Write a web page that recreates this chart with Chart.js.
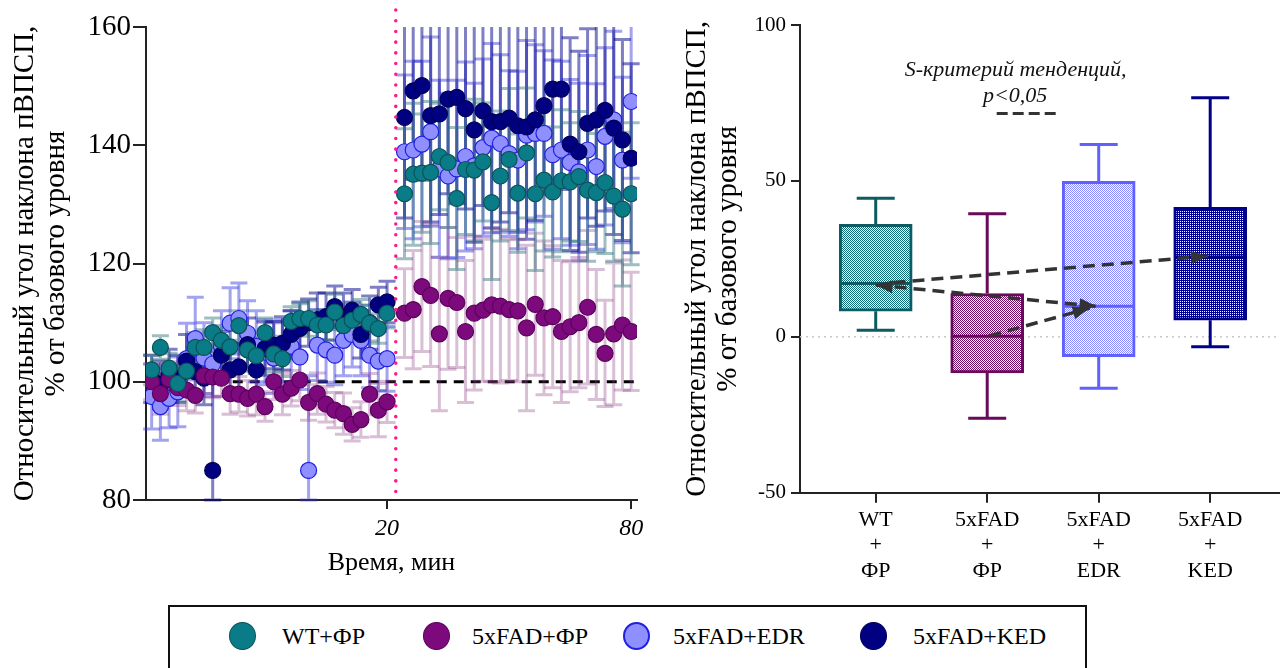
<!DOCTYPE html>
<html>
<head>
<meta charset="utf-8">
<script src="https://cdn.jsdelivr.net/npm/chart.js@4.4.1/dist/chart.umd.min.js"></script>
<style>
    html, body { margin: 0; padding: 0; background: #fff; }
    #wrap { position: relative; width: 1280px; height: 668px; overflow: hidden; font-family: 'Liberation Serif', 'Times New Roman', serif; }
    #left { position: absolute; left: 0; top: 0; }
    #right { position: absolute; left: 660px; top: 0; }
    .legend { position: absolute; left: 168px; top: 605px; width: 915px; height: 80px; border: 2px solid #111; }
    .dot { position: absolute; top: 15px; width: 27px; height: 28px; border-radius: 50%; box-sizing: border-box; }
    .lbl { position: absolute; top: 14px; font-size: 24px; line-height: 30px; color: #000; white-space: nowrap; }
</style>
</head>
<body>
<div id="wrap">
    <canvas id="left" width="660" height="600"></canvas>
    <canvas id="right" width="620" height="600"></canvas>

    <!-- общая легенда -->
    <div class="legend">
        <div class="dot" style="left: 59px; background: #0A7C88; border: 1px solid #0B5257;"></div>
        <div class="lbl" style="left: 112px;">WT+ФР</div>
        <div class="dot" style="left: 253px; background: #7D0A7D; border: 1px solid #5C005C;"></div>
        <div class="lbl" style="left: 302px;">5xFAD+ФР</div>
        <div class="dot" style="left: 453px; background: #8F8FFF; border: 2px solid #2020E0;"></div>
        <div class="lbl" style="left: 503px;">5xFAD+EDR</div>
        <div class="dot" style="left: 690px; background: #000080; border: 1px solid #00005A;"></div>
        <div class="lbl" style="left: 743px;">5xFAD+KED</div>
    </div>
</div>

<script>
    // ---- left panel: time course, mean ± error, before / after stimulation ----
    // pre-phase points sit in slots 1..28, post-phase in slots 30..56
    const PRE_FIRST_SLOT = 1;
    const POST_FIRST_SLOT = 30;
    const STIM_SLOT = 29;
    const timeTickSlots = [28, 56];
    const timeTickLabels = ['20', '80'];
    const BASELINE = 100;
    const BASELINE_FROM_SLOT = 10.3;

    const preWT = [102.0, 105.8, 102.3, 99.7, 101.8, 105.8, 105.8, 108.3, 107.0, 105.9, 109.5, 105.4, 104.4, 108.3, 104.7, 103.9, 110.2, 110.7, 110.7, 109.6, 109.6, 111.8, 109.5, 110.4, 111.4, 109.9, 109.0, 111.6];
    const preWTErr = [2.5, 2.0, 2.5, 3.0, 2.5, 2.5, 3.0, 2.5, 2.5, 3.0, 2.5, 3.0, 3.0, 2.5, 3.0, 3.0, 2.5, 2.5, 3.0, 2.5, 2.5, 3.0, 2.5, 3.0, 2.5, 3.0, 2.5, 2.5];
    const postWT = [131.8, 135.1, 135.3, 135.4, 138.1, 137.1, 131.0, 135.9, 135.8, 137.2, 130.3, 134.8, 137.6, 131.9, 138.7, 131.8, 134.1, 132.1, 134.0, 133.8, 134.7, 132.4, 132.0, 133.7, 131.4, 129.2, 131.8];
    const postWTErr = [11, 12, 10, 12, 9, 11, 12, 11, 12, 10, 13, 11, 12, 10, 11, 13, 12, 11, 12, 10, 11, 12, 10, 12, 11, 13, 12];

    const preFAD = [100.0, 98.0, 100.4, 99.0, 98.6, 97.7, 101.0, 100.8, 100.6, 98.0, 97.9, 97.2, 97.9, 95.8, 100.0, 97.9, 98.9, 100.3, 96.5, 98.0, 96.2, 95.2, 94.6, 92.8, 93.6, 97.9, 95.2, 96.6];
    const preFADErr = [3.0, 3.5, 3.0, 3.0, 3.5, 3.0, 3.0, 3.5, 3.0, 3.5, 3.0, 3.0, 3.5, 2.5, 3.0, 3.5, 3.0, 3.5, 3.0, 3.5, 3.0, 3.0, 3.5, 2.8, 3.0, 3.5, 4.5, 3.5];
    const postFAD = [111.6, 112.2, 116.1, 114.6, 108.1, 114.1, 113.4, 108.5, 111.6, 112.1, 113.0, 112.8, 112.2, 112.0, 109.1, 113.1, 110.8, 111.0, 108.5, 109.3, 110.0, 112.6, 108.0, 104.8, 108.1, 109.6, 108.5];
    const postFADErr = [7.5, 10, 11, 12, 13, 12, 11, 12, 13, 12, 13, 13, 12, 12, 14, 12, 13, 12, 12, 11, 11, 13, 11, 9, 12, 11, 10];

    const preEDR = [97.5, 95.8, 97.2, 98.3, 103.9, 107.3, 104.0, 103.0, 106.0, 109.9, 110.7, 108.2, 106.0, 105.0, 104.0, 105.0, 106.0, 104.2, 85.0, 106.2, 105.4, 104.5, 107.0, 108.0, 107.0, 104.5, 103.5, 103.9];
    const preEDRErr = [5.5, 5.7, 5.0, 5.9, 6.0, 7.0, 6.0, 5.5, 6.0, 6.0, 6.0, 5.5, 6.0, 5.5, 6.0, 5.5, 6.0, 5.5, 16.0, 6.0, 5.5, 5.0, 6.0, 5.5, 6.0, 5.5, 5.0, 5.5];
    const postEDR = [138.9, 139.2, 140.2, 142.3, 136.0, 134.8, 136.0, 138.1, 136.5, 139.6, 141.2, 140.3, 138.6, 137.5, 141.7, 142.0, 142.0, 138.4, 139.2, 137.1, 135.5, 139.2, 136.4, 141.5, 144.3, 137.5, 147.4];
    const postEDRErr = [13, 15, 14, 16, 15, 14, 15, 16, 14, 15, 16, 15, 14, 15, 16, 15, 14, 16, 15, 14, 15, 16, 14, 15, 15, 14, 13];

    const preKED = [100.5, 99.5, 101.0, 100.5, 103.5, 101.7, 100.6, 85.0, 104.5, 102.0, 102.5, 106.3, 102.0, 105.6, 106.2, 106.5, 108.0, 109.0, 110.0, 110.5, 111.0, 112.7, 111.0, 112.1, 108.0, 110.0, 113.0, 113.5];
    const preKEDErr = [4, 4, 4.5, 4, 4.5, 4, 4.5, 18.5, 4, 4.5, 4, 4.5, 4, 4.5, 4, 4.5, 4, 4.5, 4, 4.5, 4, 3.5, 4, 3.5, 4, 4.5, 3, 3.5];
    const postKED = [144.7, 149.2, 150.1, 145.0, 145.3, 147.8, 148.1, 146.2, 142.6, 145.8, 144.0, 144.0, 144.6, 143.3, 143.1, 144.3, 146.7, 149.5, 149.5, 140.2, 138.9, 143.7, 144.3, 145.9, 142.9, 140.9, 137.8];
    const postKEDErr = [17, 15, 16, 18, 17, 16, 18, 17, 19, 16, 18, 17, 16, 18, 19, 17, 15, 16, 17, 18, 17, 16, 18, 17, 18, 17, 16];

    // ---- right panel: box plots ----
    const boxLabels = [['WT', '+', 'ФР'], ['5xFAD', '+', 'ФР'], ['5xFAD', '+', 'EDR'], ['5xFAD', '+', 'KED']];
    const boxMin = [2.1, -26.1, -16.5, -3.2];
    const boxQ1 = [8.2, -11.6, -6.4, 5.3];
    const boxMed = [17.1, 0.2, 9.8, 25.6];
    const boxQ3 = [36.1, 13.9, 49.9, 41.5];
    const boxMax = [44.4, 39.5, 61.7, 76.7];

    const SERIF = "'Liberation Serif', 'Times New Roman', serif";
    Chart.defaults.font.family = SERIF;
    Chart.defaults.color = '#000';

    const series = (pre, preErr, post, postErr) =>
        pre.map((v, k) => ({ x: PRE_FIRST_SLOT + k, y: v, e: preErr[k] }))
            .concat(post.map((v, k) => ({ x: POST_FIRST_SLOT + k, y: v, e: postErr[k] })));

    const pointDs = (label, data, fill, border, errColor, order) => ({
        label, data, order, errColor,
        backgroundColor: fill,
        borderColor: border,
        borderWidth: 1.2,
        pointRadius: 8,
        pointHoverRadius: 8
    });

    const leftMarks = {
        id: 'leftMarks',
        beforeDatasetsDraw(chart) {
            const { ctx, chartArea: a, scales: { x, y } } = chart;
            ctx.save();
            // dashed 100% baseline
            const yb = y.getPixelForValue(BASELINE);
            ctx.strokeStyle = '#000';
            ctx.lineWidth = 3;
            ctx.setLineDash([10, 7]);
            ctx.beginPath();
            ctx.moveTo(x.getPixelForValue(BASELINE_FROM_SLOT), yb);
            ctx.lineTo(a.right, yb);
            ctx.stroke();
            ctx.setLineDash([]);

            // error bars, bottom layer first
            const sorted = [...chart.data.datasets].sort((p, q) => q.order - p.order);
            sorted.forEach(ds => {
                ctx.strokeStyle = ds.errColor;
                ctx.lineWidth = 3;
                ds.data.forEach(pt => {
                    const px = x.getPixelForValue(pt.x);
                    let hi = y.getPixelForValue(pt.y + pt.e);
                    let lo = y.getPixelForValue(pt.y - pt.e);
                    const hiClipped = hi < a.top;
                    hi = Math.max(hi, a.top);
                    lo = Math.min(lo, a.bottom);
                    ctx.beginPath();
                    ctx.moveTo(px, hi);
                    ctx.lineTo(px, lo);
                    if (!hiClipped) {
                        ctx.moveTo(px - 8.5, hi);
                        ctx.lineTo(px + 8.5, hi);
                    }
                    ctx.moveTo(px - 8.5, lo);
                    ctx.lineTo(px + 8.5, lo);
                    ctx.stroke();
                });
            });
            ctx.restore();
        },
        afterDatasetsDraw(chart) {
            const { ctx, chartArea: a, scales: { x } } = chart;
            // stimulation marker
            const sx = x.getPixelForValue(STIM_SLOT);
            ctx.save();
            ctx.strokeStyle = '#FF1A8C';
            ctx.lineWidth = 3.5;
            ctx.lineCap = 'round';
            ctx.setLineDash([0.1, 10.6]);
            ctx.beginPath();
            ctx.moveTo(sx, a.top - 17);
            ctx.lineTo(sx, a.bottom);
            ctx.stroke();
            ctx.restore();
        }
    };

    new Chart(document.getElementById('left'), {
        type: 'scatter',
        data: {
            datasets: [
                pointDs('WT+ФР', series(preWT, preWTErr, postWT, postWTErr), '#0A7C88', '#0B5257', 'rgba(40,110,120,0.45)', 0),
                pointDs('5xFAD+ФР', series(preFAD, preFADErr, postFAD, postFADErr), '#7D0A7D', '#5C005C', 'rgba(140,60,130,0.33)', 1),
                pointDs('5xFAD+EDR', series(preEDR, preEDRErr, postEDR, postEDRErr), '#8F8FFF', '#2020E0', 'rgba(50,50,220,0.45)', 3),
                pointDs('5xFAD+KED', series(preKED, preKEDErr, postKED, postKEDErr), '#000080', '#00005A', 'rgba(0,0,140,0.5)', 2)
            ]
        },
        options: {
            responsive: false,
            animation: false,
            layout: { padding: { top: 27, right: 23, left: 0, bottom: 0 } },
            plugins: { legend: { display: false }, tooltip: { enabled: false } },
            scales: {
                x: {
                    type: 'linear',
                    min: 0.35,
                    max: 56.67,
                    afterBuildTicks: s => { s.ticks = timeTickSlots.map(v => ({ value: v })); },
                    ticks: {
                        callback: v => timeTickLabels[timeTickSlots.indexOf(v)],
                        font: { size: 24, style: 'italic', lineHeight: 1.2 },
                        padding: 5,
                        maxRotation: 0
                    },
                    grid: { drawOnChartArea: false, tickLength: 9, tickColor: '#222', lineWidth: 2 },
                    border: { color: '#222', width: 2 },
                    title: { display: true, text: 'Время, мин', font: { size: 26, lineHeight: 1.2 }, padding: { bottom: 21 } },
                    afterFit: s => { s.height = 100; }
                },
                y: {
                    min: 80,
                    max: 160,
                    ticks: { stepSize: 20, font: { size: 29 }, padding: 2 },
                    grid: { drawOnChartArea: false, tickLength: 13, tickColor: '#222', lineWidth: 2 },
                    border: { color: '#222', width: 2 },
                    title: {
                        display: true,
                        text: ['Относительный угол наклона пВПСП,', '% от базового уровня'],
                        font: { size: 29, lineHeight: 1.1 },
                        padding: { top: 9 }
                    },
                    afterFit: s => { s.width = 146; }
                }
            }
        },
        plugins: [leftMarks]
    });

    // ---- right panel ----
    const rightCanvas = document.getElementById('right');
    // 2x2 tile; dense = how many of the 4 cells take the colour
    const checker = (color, dense) => {
        const c = document.createElement('canvas');
        c.width = 2; c.height = 2;
        const g = c.getContext('2d');
        g.fillStyle = '#fff';
        g.fillRect(0, 0, 2, 2);
        g.fillStyle = color;
        g.fillRect(0, 0, 1, 1);
        g.fillRect(1, 1, 1, 1);
        if (dense > 2) g.fillRect(1, 0, 1, 1);
        return rightCanvas.getContext('2d').createPattern(c, 'repeat');
    };
    const boxStroke = ['#0D5C63', '#6A0A5A', '#6060FF', '#000088'];
    const boxFill = [checker('#0A6E78', 2), checker('#720868', 2), checker('#8A8AFF', 2), checker('#000090', 3)];

    // trend links between medians, in (group, value) coordinates
    const trendLinks = [
        { from: [0.16, 17.4], to: [2.98, 25.9], headStart: false },
        { from: [0.0, 16.6], to: [1.98, 9.8], headStart: true },
        { from: [1.02, 0.3], to: [1.92, 9.2], headStart: false }
    ];

    const arrowHead = (ctx, x0, y0, x1, y1) => {
        const ang = Math.atan2(y1 - y0, x1 - x0);
        ctx.save();
        ctx.translate(x1, y1);
        ctx.rotate(ang);
        ctx.beginPath();
        ctx.moveTo(0, 0);
        ctx.lineTo(-17, -6.5);
        ctx.lineTo(-17, 6.5);
        ctx.closePath();
        ctx.fill();
        ctx.restore();
    };

    const boxMarks = {
        id: 'boxMarks',
        beforeDatasetsDraw(chart) {
            const { ctx, chartArea: a, scales: { y } } = chart;
            const y0 = y.getPixelForValue(0);
            ctx.save();
            ctx.strokeStyle = '#C8C8C8';
            ctx.lineWidth = 1.5;
            ctx.setLineDash([2, 4]);
            ctx.beginPath();
            ctx.moveTo(a.left, y0);
            ctx.lineTo(a.right, y0);
            ctx.stroke();
            ctx.restore();
        },
        afterDatasetsDraw(chart) {
            const { ctx, scales: { x, y } } = chart;
            ctx.save();
            ctx.lineWidth = 3;
            boxMed.forEach((m, i) => {
                const cx = x.getPixelForValue(i);
                ctx.strokeStyle = boxStroke[i];
                ctx.beginPath();
                ctx.moveTo(cx, y.getPixelForValue(boxQ3[i]));
                ctx.lineTo(cx, y.getPixelForValue(boxMax[i]));
                ctx.moveTo(cx - 19, y.getPixelForValue(boxMax[i]));
                ctx.lineTo(cx + 19, y.getPixelForValue(boxMax[i]));
                ctx.moveTo(cx, y.getPixelForValue(boxQ1[i]));
                ctx.lineTo(cx, y.getPixelForValue(boxMin[i]));
                ctx.moveTo(cx - 19, y.getPixelForValue(boxMin[i]));
                ctx.lineTo(cx + 19, y.getPixelForValue(boxMin[i]));
                ctx.moveTo(cx - 35, y.getPixelForValue(m));
                ctx.lineTo(cx + 35, y.getPixelForValue(m));
                ctx.stroke();
            });

            // trend arrows
            ctx.strokeStyle = '#333';
            ctx.fillStyle = '#333';
            ctx.lineWidth = 3.5;
            trendLinks.forEach(l => {
                const x0 = x.getPixelForValue(l.from[0]), y0 = y.getPixelForValue(l.from[1]);
                const x1 = x.getPixelForValue(l.to[0]), y1 = y.getPixelForValue(l.to[1]);
                ctx.setLineDash([12, 7]);
                ctx.beginPath();
                ctx.moveTo(x0, y0);
                ctx.lineTo(x1, y1);
                ctx.stroke();
                ctx.setLineDash([]);
                arrowHead(ctx, x0, y0, x1, y1);
                if (l.headStart) arrowHead(ctx, x1, y1, x0, y0);
            });

            // trend test note
            ctx.font = 'italic 22px ' + SERIF;
            ctx.textAlign = 'center';
            ctx.textBaseline = 'middle';
            ctx.fillStyle = '#111';
            ctx.fillText('S-критерий тенденций,', x.getPixelForValue(1.255), y.getPixelForValue(85.5));
            ctx.fillText('p<0,05', x.getPixelForValue(1.25), y.getPixelForValue(77.1));
            ctx.strokeStyle = '#333';
            ctx.lineWidth = 3;
            ctx.setLineDash([11, 5]);
            ctx.beginPath();
            ctx.moveTo(x.getPixelForValue(1.085), y.getPixelForValue(71.6));
            ctx.lineTo(x.getPixelForValue(1.638), y.getPixelForValue(71.6));
            ctx.stroke();
            ctx.restore();
        }
    };

    new Chart(rightCanvas, {
        type: 'bar',
        data: {
            datasets: [{
                label: 'box',
                data: boxQ1.map((q1, i) => ({ x: i, y: [q1, boxQ3[i]] })),
                backgroundColor: boxFill,
                borderColor: boxStroke,
                borderWidth: 3,
                borderSkipped: false,
                barThickness: 73
            }]
        },
        options: {
            responsive: false,
            animation: false,
            layout: { padding: { top: 25, right: 0, left: 0, bottom: 0 } },
            plugins: { legend: { display: false }, tooltip: { enabled: false } },
            scales: {
                x: {
                    type: 'linear',
                    min: -0.679,
                    max: 3.626,
                    offset: false,
                    afterBuildTicks: s => { s.ticks = boxLabels.map((_, i) => ({ value: i })); },
                    ticks: {
                        callback: v => boxLabels[v],
                        font: { size: 22, lineHeight: 1.15 },
                        padding: 5,
                        maxRotation: 0,
                        autoSkip: false
                    },
                    grid: { drawOnChartArea: false, offset: false, tickLength: 10, tickColor: '#222', lineWidth: 2 },
                    border: { color: '#222', width: 2 },
                    afterFit: s => { s.height = 107.3; }
                },
                y: {
                    min: -50,
                    max: 100,
                    ticks: { stepSize: 50, font: { size: 21 }, padding: 5 },
                    grid: { drawOnChartArea: false, tickLength: 9, tickColor: '#222', lineWidth: 2 },
                    border: { color: '#222', width: 2 },
                    title: {
                        display: true,
                        text: ['Относительный угол наклона пВПСП,', '% от базового уровня'],
                        font: { size: 29, lineHeight: 1.1 },
                        padding: { top: 21 }
                    },
                    afterFit: s => { s.width = 140; }
                }
            }
        },
        plugins: [boxMarks]
    });
</script>
</body>
</html>
